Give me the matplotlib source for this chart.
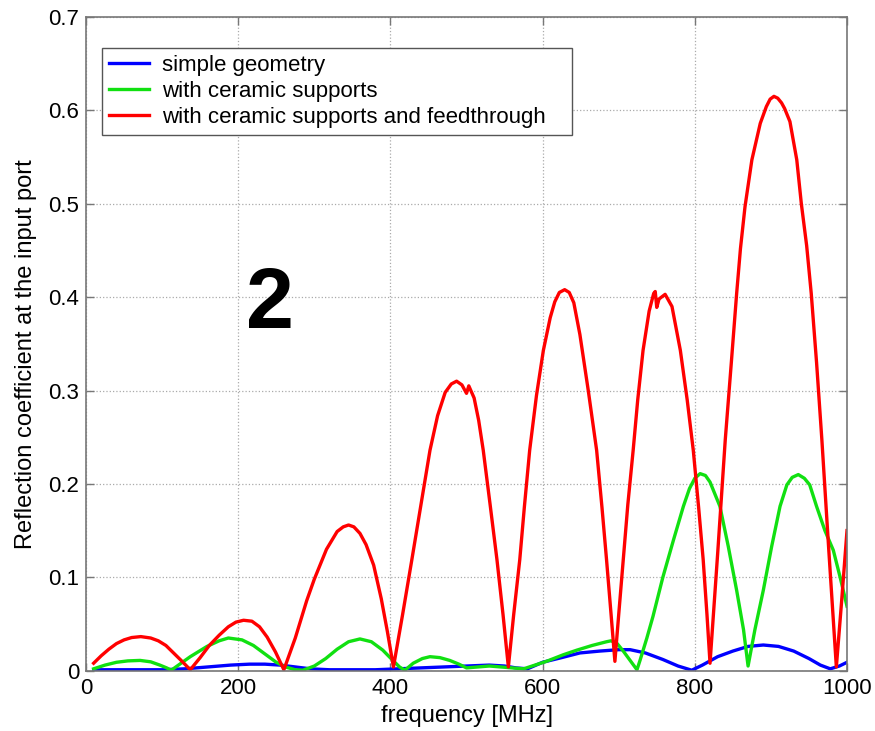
import matplotlib
matplotlib.use("Agg")
import matplotlib.pyplot as plt

plt.rcParams['font.family'] = ['Liberation Sans', 'DejaVu Sans']

# Reflection coefficient (frequency in MHz)
f_blue = [10, 50, 100, 130, 160, 190, 215, 235, 255, 275, 295, 320, 350, 380, 410,
          440, 470, 500, 530, 550, 565, 580, 600, 625, 649, 675, 700, 715, 735, 758,
          778, 796, 810, 830, 850, 870, 890, 910, 930, 950, 965, 978, 990, 1000]
r_blue = [0.001, 0.001, 0.001, 0.002, 0.004, 0.006, 0.007, 0.007, 0.006, 0.004, 0.002,
          0.001, 0.001, 0.001, 0.002, 0.003, 0.004, 0.005, 0.006, 0.005, 0.003, 0.002,
          0.009, 0.014, 0.019, 0.021, 0.0225, 0.0225, 0.019, 0.012, 0.005, 0.0005,
          0.006, 0.015, 0.021, 0.026, 0.0275, 0.026, 0.021, 0.013, 0.006, 0.002, 0.005,
          0.009]

f_green = [10, 25, 40, 55, 71, 85, 97, 106, 112, 137, 159, 175, 187, 205, 220, 235,
           250, 262, 275, 285, 300, 315, 330, 345, 360, 375, 390, 402, 412, 419, 430,
           442, 452, 465, 478, 490, 500, 515, 530, 545, 560, 575, 590, 605, 627, 645,
           665, 684, 690, 698, 706, 715, 724, 728, 737, 745, 758, 772, 785, 793, 800,
           807, 814, 820, 826, 833, 844, 855, 864, 870, 879, 890, 901, 912, 921, 928,
           936, 944, 951, 960, 971, 982, 991, 1000]
r_green = [0.002, 0.006, 0.009, 0.0105, 0.011, 0.0095, 0.006, 0.003, 0.0005, 0.015,
           0.026, 0.032, 0.035, 0.033, 0.027, 0.018, 0.009, 0.004, 0.001, 0.0005, 0.005,
           0.013, 0.023, 0.031, 0.034, 0.031, 0.022, 0.012, 0.004, 0.0005, 0.008, 0.013,
           0.015, 0.014, 0.011, 0.007, 0.003, 0.004, 0.005, 0.004, 0.003, 0.002, 0.006,
           0.010, 0.017, 0.022, 0.027, 0.031, 0.032, 0.029, 0.021, 0.011, 0.001, 0.011,
           0.035, 0.058, 0.100, 0.140, 0.176, 0.195, 0.206, 0.211, 0.209, 0.202, 0.19,
           0.176, 0.133, 0.086, 0.044, 0.005, 0.044, 0.086, 0.133, 0.176, 0.199, 0.207,
           0.210, 0.206, 0.199, 0.176, 0.150, 0.129, 0.100, 0.069]

f_red = [10, 20, 30, 40, 50, 60, 72, 85, 95, 105, 115, 125, 137,
         150, 162, 175, 187, 197, 207, 218, 228, 238, 249, 260,
         275, 290, 300, 316, 330, 338, 345, 352, 360, 368, 378, 388, 396, 404,
         416, 428, 440, 452, 462, 472, 480, 487, 494, 498, 500, 503, 510, 516, 522,
         531, 540, 548, 555,
         562, 570, 576, 583, 592, 601, 610, 616, 622, 629, 635, 641, 649, 660, 671,
         678, 684, 690, 695,
         700, 706, 712, 719, 725, 732, 740, 746, 748, 750, 753, 761, 770, 781, 790,
         798, 805, 811, 816, 820,
         830, 840, 848, 855, 860, 866, 875, 886, 894, 899, 904, 909, 914, 918, 925,
         934, 940, 947, 953, 960, 967, 976, 986, 993, 1000]
r_red = [0.008, 0.016, 0.023, 0.029, 0.033, 0.0355, 0.0365, 0.035, 0.032, 0.027,
         0.019, 0.011, 0.001,
         0.014, 0.027, 0.038, 0.047, 0.052, 0.054, 0.053, 0.047, 0.036, 0.020, 0.001,
         0.035, 0.075, 0.098, 0.130, 0.149, 0.154, 0.156, 0.154, 0.147, 0.135, 0.113,
         0.077, 0.042, 0.004,
         0.060, 0.118, 0.177, 0.236, 0.273, 0.298, 0.307, 0.310, 0.306, 0.300, 0.297,
         0.305, 0.292, 0.268, 0.236,
         0.178, 0.119, 0.060, 0.004,
         0.060, 0.119, 0.175, 0.236, 0.295, 0.343, 0.378, 0.395, 0.405, 0.408, 0.405,
         0.394, 0.360, 0.300, 0.236, 0.175, 0.119, 0.060, 0.010,
         0.060, 0.119, 0.178, 0.236, 0.290, 0.343, 0.385, 0.404, 0.406, 0.389, 0.398,
         0.403, 0.390, 0.343, 0.290, 0.236, 0.175, 0.119, 0.060, 0.008,
         0.125, 0.247, 0.330, 0.404, 0.452, 0.497, 0.547, 0.586, 0.604, 0.612, 0.615,
         0.613, 0.608, 0.602, 0.588, 0.547, 0.500, 0.455, 0.404, 0.330, 0.247, 0.130,
         0.004, 0.075, 0.150]

labels = ["simple geometry", "with ceramic supports",
          "with ceramic supports and feedthrough"]
colors = ["#0000ff", "#11e011", "#ff0000"]

fig = plt.figure(figsize=(8.75, 7.31), dpi=100)
ax = fig.add_axes([0.0983, 0.0825, 0.8697, 0.8943])

ax.plot(f_blue, r_blue, color=colors[0], lw=2.4, label=labels[0])
ax.plot(f_green, r_green, color=colors[1], lw=2.4, label=labels[1])
ax.plot(f_red, r_red, color=colors[2], lw=2.4, label=labels[2])

ax.set_xlim(0, 1000)
ax.set_ylim(0, 0.7)
ax.set_xticks([0, 200, 400, 600, 800, 1000])
ax.set_yticks([0, 0.1, 0.2, 0.3, 0.4, 0.5, 0.6, 0.7])
ax.set_yticklabels(["0", "0.1", "0.2", "0.3", "0.4", "0.5", "0.6", "0.7"])
ax.grid(True, linestyle=":", color="#aaaaaa", linewidth=0.9)
ax.tick_params(direction="in", top=True, right=True, length=6, width=1,
               color="#777777", labelsize=16, pad=5)
for s in ax.spines.values():
    s.set_color("#777777")
    s.set_linewidth(1.2)

ax.set_xlabel("frequency [MHz]", fontsize=17)
ax.xaxis.set_label_coords(0.5, -0.052)
ax.set_ylabel("Reflection coefficient at the input port", fontsize=17)
ax.yaxis.set_label_coords(-0.064, 0.485)

ax.text(242, 0.367, "2", fontsize=62, fontweight="bold", ha="center", va="baseline")

leg = ax.legend(loc="upper left", bbox_to_anchor=(0.021, 0.8195, 0.6176, 0.133),
                mode="expand", borderaxespad=0, fontsize=16, fancybox=False,
                framealpha=1, edgecolor="#555555", handlelength=1.8,
                handletextpad=0.6, labelspacing=0.23, borderpad=0.3)
leg.get_frame().set_linewidth(1.0)

fig.savefig("out.png", dpi=100)
